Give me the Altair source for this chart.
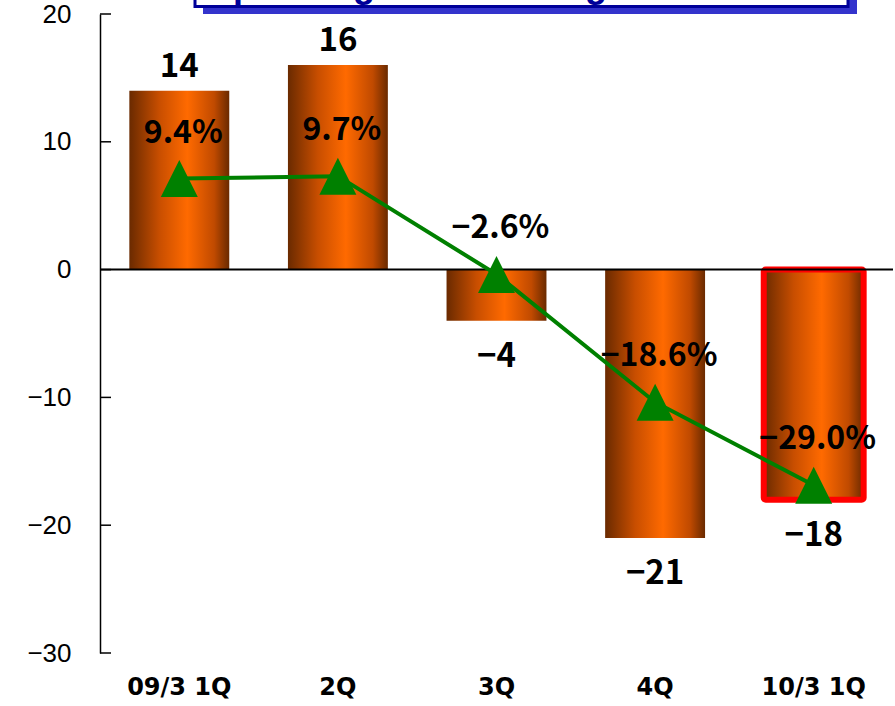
import altair as alt
import pandas as pd

# Quarterly operating income (bars, left axis) and operating margin (line, hidden right scale)
quarters = ["09/3 1Q", "2Q", "3Q", "4Q", "10/3 1Q"]
income = [14, 16, -4, -21, -18]
income_labels = ["14", "16", "\u22124", "\u221221", "\u221218"]
margin = [9.4, 9.7, -2.6, -18.6, -29.0]
margin_labels = ["9.4%", "9.7%", "\u22122.6%", "\u221218.6%", "\u221229.0%"]
highlight = [False, False, False, False, True]
y_ticks = [20, 10, 0, -10, -20, -30]
title_text = "Operating Income/Margin"

W, H = 793, 639
LABEL_FONT = "Noto Sans CJK JP"

df = pd.DataFrame({
    "quarter": quarters,
    "income": income,
    "income_label": income_labels,
    "margin": margin,
    "margin_label": margin_labels,
    "highlight": highlight,
})

x_enc = alt.X(
    "quarter:N",
    sort=quarters,
    scale=alt.Scale(paddingInner=0.37, paddingOuter=0.185),
    axis=alt.Axis(
        title=None, labelAngle=0, domain=False, ticks=False, grid=False,
        labelFont="DejaVu Sans", labelFontWeight="bold", labelFontSize=24,
        labelColor="black", labelPadding=22,
    ),
)

left_scale = alt.Scale(domain=[-30, 20], nice=False, zero=False)
right_scale = alt.Scale(domain=[-50, 30], nice=False, zero=False)

bar_fill = alt.Gradient(
    gradient="linear", x1=0, x2=1, y1=0, y2=0,
    stops=[
        alt.GradientStop(color="#6a2a00", offset=0),
        alt.GradientStop(color="#c84e00", offset=0.3),
        alt.GradientStop(color="#ff6a00", offset=0.58),
        alt.GradientStop(color="#c04a00", offset=0.85),
        alt.GradientStop(color="#6a2a00", offset=1),
    ],
)

base = alt.Chart(df)

bars = base.mark_bar(color=bar_fill).encode(
    x=x_enc,
    y=alt.Y("income:Q", scale=left_scale, axis=alt.Axis(
        title=None, values=y_ticks, grid=False, ticks=False,
        domainColor="black", domainWidth=1.5,
        labelFont="Liberation Sans", labelFontSize=26, labelColor="black",
        labelPadding=29,
    )),
    y2=alt.datum(0),
)

highlight_box = base.transform_filter("datum.highlight").mark_bar(
    fill=None, stroke="#ff0000", strokeWidth=6, cornerRadius=2,
).encode(x=x_enc, y=alt.Y("income:Q", scale=left_scale, axis=None), y2=alt.datum(0))

zero_line = alt.Chart(pd.DataFrame({"v": [0]})).mark_rule(
    color="black", strokeWidth=2
).encode(y=alt.Y("v:Q", scale=left_scale, axis=None))

# inward-pointing tick marks on the left axis
tick_marks = alt.Chart(pd.DataFrame({"t": y_ticks})).mark_rule(
    color="black", strokeWidth=1.5
).encode(
    y=alt.Y("t:Q", scale=left_scale, axis=None),
    x=alt.value(0), x2=alt.value(11),
)

pos_labels = base.transform_filter("datum.income >= 0").mark_text(
    font=LABEL_FONT, fontSize=33, fontWeight="bold", color="black",
    baseline="alphabetic", dy=-14,
).encode(x=x_enc, y=alt.Y("income:Q", scale=left_scale, axis=None),
         text="income_label:N")

neg_labels = base.transform_filter("datum.income < 0").mark_text(
    font=LABEL_FONT, fontSize=33, fontWeight="bold", color="black",
    baseline="alphabetic", dy=46,
).encode(x=x_enc, y=alt.Y("income:Q", scale=left_scale, axis=None),
         text="income_label:N")

margin_line = base.mark_line(color="#008000", strokeWidth=4).encode(
    x=x_enc, y=alt.Y("margin:Q", scale=right_scale, axis=None),
)

margin_points = base.mark_point(
    shape="M0,-1L1,1L-1,1Z", size=1369, filled=True, opacity=1,
    color="#008000",
).encode(x=x_enc, y=alt.Y("margin:Q", scale=right_scale, axis=None))

margin_text = base.mark_text(
    font=LABEL_FONT, fontSize=32, fontWeight="bold", color="black",
    baseline="middle", dy=-46, dx=4,
).encode(x=x_enc, y=alt.Y("margin:Q", scale=right_scale, axis=None),
         text="margin_label:N")

# title banner: shadow, framed white box and heading text
banner = pd.DataFrame({"k": [0]})
banner_shadow = alt.Chart(banner).mark_rect(color="#3333cc").encode(
    x=alt.value(103), x2=alt.value(757), y=alt.value(-120), y2=alt.value(0),
)
banner_box = alt.Chart(banner).mark_rect(
    fill="white", stroke="#000099", strokeWidth=3,
).encode(
    x=alt.value(95), x2=alt.value(748), y=alt.value(-120), y2=alt.value(-7.5),
)
banner_text = alt.Chart(banner).mark_text(
    text=title_text, font="Liberation Sans", fontWeight="bold", fontSize=36,
    color="#000099", align="left", baseline="alphabetic",
).encode(x=alt.value(105), y=alt.value(-17.5))

chart = alt.layer(
    bars, highlight_box, zero_line, tick_marks, pos_labels, neg_labels,
    margin_line, margin_points, margin_text,
    banner_shadow, banner_box, banner_text,
).resolve_scale(y="independent").properties(
    width=W, height=H,
    background="white",
    autosize=alt.AutoSizeParams(type="none"),
    padding={"left": 100, "top": 14, "right": 2, "bottom": 53},
).configure_view(strokeWidth=0, stroke="transparent")

chart.save("out.html", embed_options={"renderer": "svg", "actions": False})
